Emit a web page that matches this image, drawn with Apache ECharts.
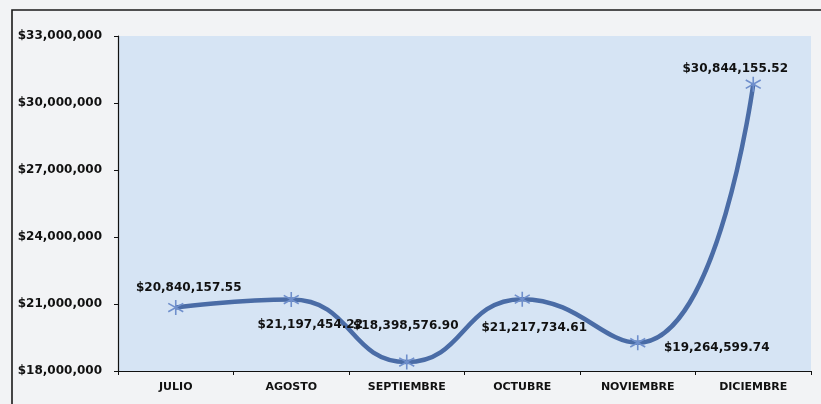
<!DOCTYPE html>
<html>
<head>
<meta charset="utf-8">
<script src="https://cdn.jsdelivr.net/npm/echarts@6/dist/echarts.min.js"></script>
<style>
html,body{margin:0;padding:0;background:#f2f3f5;}
#chart{width:821px;height:404px;}
</style>
</head>
<body>
<div id="chart"></div>
<script>
var categories = ['JULIO', 'AGOSTO', 'SEPTIEMBRE', 'OCTUBRE', 'NOVIEMBRE', 'DICIEMBRE'];
var values = [20840157.55, 21197454.22, 18398576.90, 21217734.61, 19264599.74, 30844155.52];
var labelOffsets = [[13, -20], [19, 25], [-1, -36], [12, 29], [79, 5], [-18, -15]];
var yMin = 18000000, yMax = 33000000, yStep = 3000000;

function money(v, dec) {
  var parts = v.toFixed(dec).split('.');
  var s = parts[0].replace(/\B(?=(\d{3})+(?!\d))/g, ',');
  return '$' + s + (dec ? '.' + parts[1] : '');
}

var chart = echarts.init(document.getElementById('chart'), null, {renderer: 'canvas'});
var font = 'DejaVu Sans';
var data = values.map(function (v, i) {
  return {
    value: v,
    label: {offset: labelOffsets[i]}
  };
});

chart.setOption({
  backgroundColor: '#f2f3f5',
  animation: false,
  graphic: [{
    type: 'rect',
    shape: {x: 12, y: 10, width: 830, height: 420},
    style: {fill: 'none', stroke: '#1a1a1a', lineWidth: 1.6},
    z: -1
  }],
  grid: {
    left: 118, right: 10, top: 36, bottom: 33,
    show: true, backgroundColor: '#d6e4f4', borderWidth: 0
  },
  xAxis: {
    type: 'category',
    data: categories,
    boundaryGap: true,
    axisLine: {lineStyle: {color: '#111', width: 1.2}},
    axisTick: {show: true, length: 4, lineStyle: {color: '#111'}},
    axisLabel: {color: '#111', fontFamily: font, fontWeight: 'bold', fontSize: 11, margin: 11}
  },
  yAxis: {
    type: 'value',
    min: yMin, max: yMax, interval: yStep,
    axisLine: {show: true, lineStyle: {color: '#111', width: 1.2}},
    axisTick: {show: true, length: 4, lineStyle: {color: '#111'}},
    splitLine: {show: false},
    axisLabel: {
      color: '#111', fontFamily: font, fontWeight: 'bold', fontSize: 12, margin: 16,
      formatter: function (v) { return money(v, 0); }
    }
  },
  series: [{
    type: 'line',
    data: data,
    smooth: 0.5,
    lineStyle: {color: '#4a6ca6', width: 4.5},
    symbol: 'path://M0,-8L0,8M-7,-4.5L7,4.5M-7,4.5L7,-4.5',
    symbolSize: 15,
    itemStyle: {color: 'rgba(0,0,0,0)', borderColor: '#6f8fcc', borderWidth: 1.6},
    label: {
      show: true,
      position: 'inside',
      color: '#111',
      fontFamily: font,
      fontWeight: 'bold',
      fontSize: 12,
      formatter: function (p) { return money(p.value, 2); }
    },
    z: 3
  }]
});
</script>
</body>
</html>
